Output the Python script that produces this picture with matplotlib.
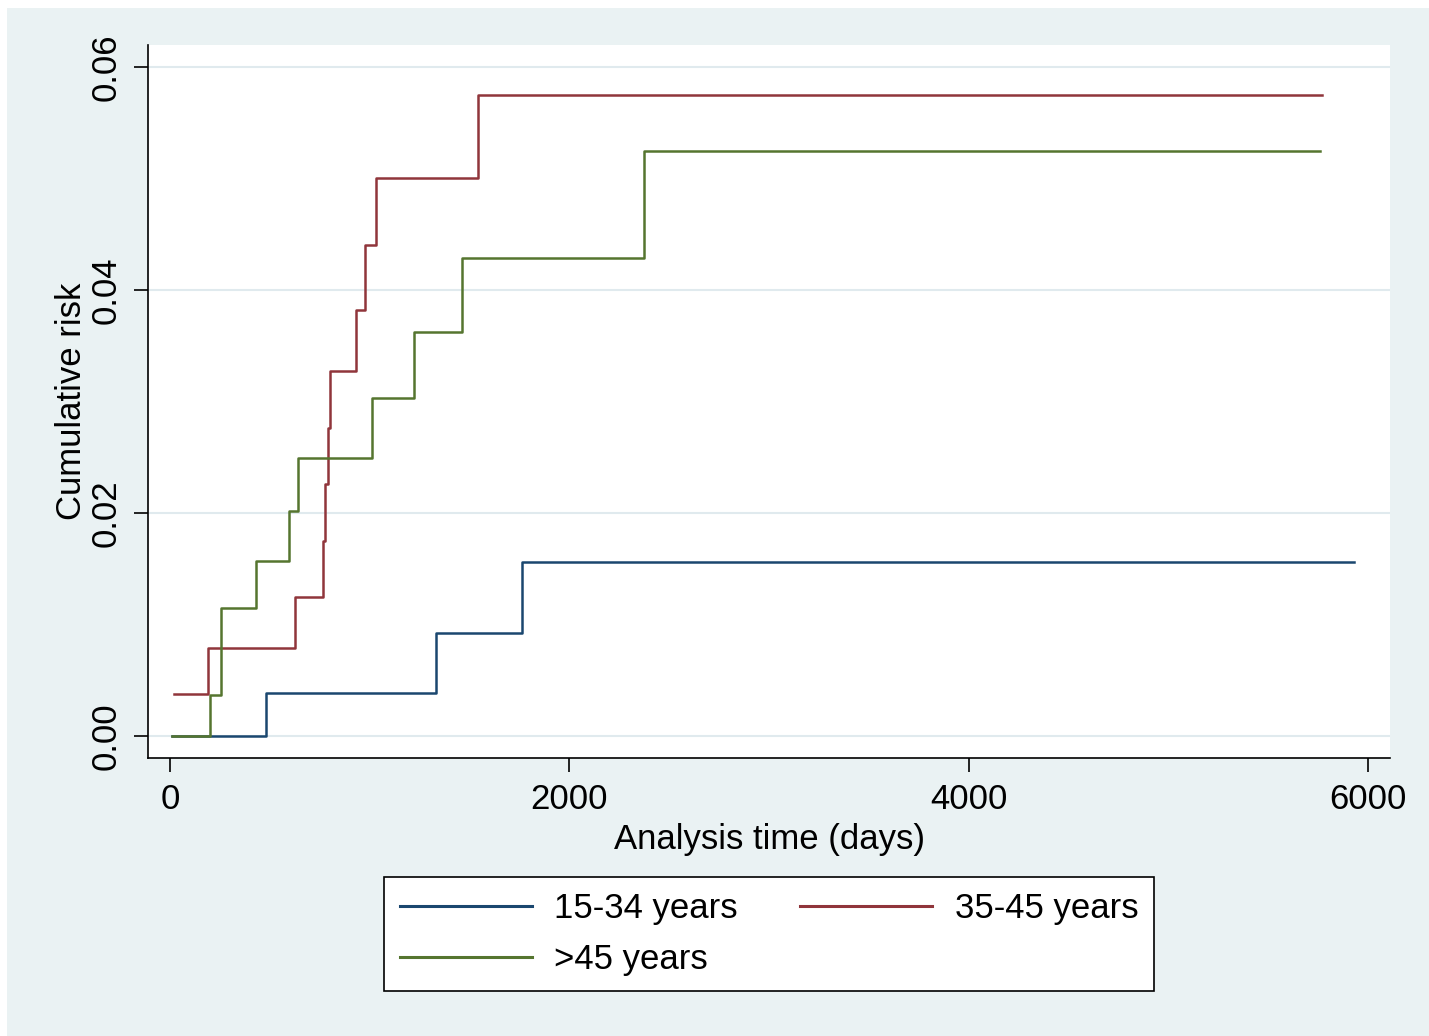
import matplotlib
matplotlib.use('Agg')
import matplotlib.pyplot as plt
from matplotlib.patches import Rectangle

plt.rcParams['font.family'] = ['Liberation Sans', 'DejaVu Sans']

# cumulative risk step functions (time in days, risk after each step)
t_young = [8, 482, 1330, 1762, 5930]
r_young = [0.0, 0.0039, 0.0092, 0.0156, 0.0156]

t_mid = [22, 189, 627, 766, 778, 789, 803, 931, 978, 1033, 1540, 5770]
r_mid = [0.0038, 0.0079, 0.0125, 0.0175, 0.0226, 0.0276, 0.0327, 0.0382, 0.0440, 0.0500, 0.0575, 0.0575]

t_old = [8, 202, 255, 432, 597, 639, 1013, 1221, 1462, 2373, 5760]
r_old = [0.0, 0.0037, 0.0115, 0.0157, 0.0202, 0.0249, 0.0303, 0.0362, 0.0429, 0.0525, 0.0525]

labels = ['15-34 years', '35-45 years', '>45 years']
colors = ['#1a476f', '#90353b', '#55752f']

x_ticks = [0, 2000, 4000, 6000]
y_ticks = [0.00, 0.02, 0.04, 0.06]

bg = '#eaf2f3'
fig = plt.figure(figsize=(14.29, 10.36), dpi=100, facecolor='white')
fig.patches.append(Rectangle((7 / 1429, 0), 1, 1 - 8 / 1036, transform=fig.transFigure,
                             facecolor=bg, edgecolor='none', zorder=-10))

ax = fig.add_axes([148 / 1429, 1 - 758 / 1036, (1390 - 148) / 1429, (758 - 45) / 1036])
ax.set_facecolor('white')

for y in y_ticks:
    ax.axhline(y, color='#e0eaee', lw=1.5, zorder=1)

series = [(t_young, r_young), (t_mid, r_mid), (t_old, r_old)]
handles = []
for (t, r), lab, c in zip(series, labels, colors):
    h, = ax.step(t, r, where='post', color=c, lw=1.8, label=lab, zorder=3)
    handles.append(h)

ax.set_xlim(-110, 6108)
ax.set_ylim(-0.00197, 0.06197)
ax.set_xticks(x_ticks)
ax.set_xticklabels([str(v) for v in x_ticks])
ax.set_yticks(y_ticks)
ax.set_yticklabels(['%.2f' % v for v in y_ticks], rotation=90, va='center')

for s in ['top', 'right']:
    ax.spines[s].set_visible(False)
for s in ['left', 'bottom']:
    ax.spines[s].set_linewidth(1.2)
    ax.spines[s].set_color('black')

ax.tick_params(axis='both', direction='out', length=10, width=1.2, labelsize=25, pad=8)

ax.set_xlabel('Analysis time (days)', fontsize=25, labelpad=5)
ax.set_ylabel('Cumulative risk', fontsize=25, labelpad=1.5)

# legend order: row 1 = young, mid; row 2 = old
leg = fig.legend([handles[0], handles[2], handles[1]], [labels[0], labels[2], labels[1]],
                 ncol=2, loc='center', bbox_to_anchor=(769 / 1429, 1 - 934 / 1036),
                 fontsize=25, frameon=True, fancybox=False, framealpha=1,
                 edgecolor='black', handlelength=3.8, handletextpad=0.65,
                 columnspacing=1.8, labelspacing=0.5, borderpad=0.45)
leg.get_frame().set_linewidth(1.2)
for line in leg.get_lines():
    line.set_linewidth(2.2)

fig.savefig('out.png', dpi=100, facecolor=fig.get_facecolor())
